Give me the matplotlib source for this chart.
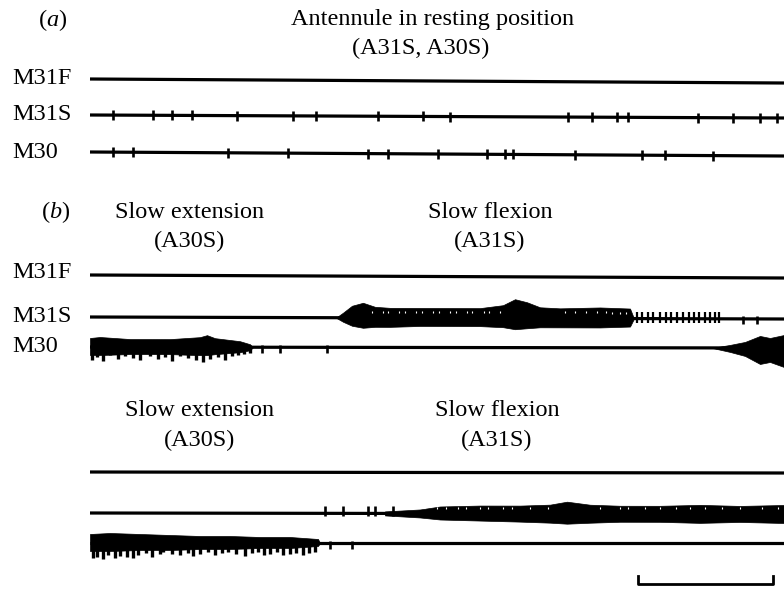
import matplotlib
matplotlib.use("Agg")
import matplotlib.pyplot as plt
import numpy as np

plt.rcParams['font.family'] = ['Liberation Serif', 'DejaVu Serif']
plt.rcParams['mathtext.fontset'] = 'custom'
plt.rcParams['mathtext.rm'] = 'Liberation Serif'
plt.rcParams['mathtext.it'] = 'Liberation Serif:italic'

# ---------------- data (time axis in trace units, amplitudes in trace units) ----------------
T_START = 90
T_END = 784

# Trace baselines (left level, right level)
base_a = {"M31F": (79, 83), "M31S": (115, 118), "M30": (152, 156)}
base_b = {"M31F": (275, 278), "M31S": (317, 319), "M30": (347, 348)}
base_c = {"top": (472, 473), "mid": (513, 514), "bot": (543, 543)}

# (a) single spike times
spikes_a_m31s = [113, 153, 172, 192, 237, 293, 316, 378, 423, 450, 568, 592, 617, 628, 698, 733, 760, 777]
spikes_a_m30 = [113, 133, 228, 288, 368, 388, 438, 487, 505, 513, 575, 642, 665, 713]

# (b) M31S burst envelope
b31s_t = [336, 343, 352, 363, 375, 390, 420, 480, 503, 515, 527, 540, 560, 600, 630, 634]
b31s_up = [0, 5, 12, 15, 11, 10, 10, 10, 13, 19, 16, 11, 10, 11, 10, 0]
b31s_dn = [0, 4, 8, 10, 9, 9, 8, 8, 9, 11, 10, 9, 9, 9, 8, 0]
b31s_gaps = [372, 383, 388, 399, 405, 416, 422, 433, 439, 450, 456,
             467, 472, 484, 489, 500, 565, 575, 586, 597, 606, 612, 620, 626]
b31s_comb = [637, 642, 648, 653, 660, 666, 671, 677, 683, 689, 694, 699, 705, 710, 715, 719]
b31s_extra = [743, 757]

# (b) M30 bursts
b30_t = [90, 100, 130, 170, 200, 207, 215, 240, 250, 253]
b30_up = [9, 10, 8, 8, 10, 12, 9, 6, 3, 0]
b30_dn = [8, 8, 7, 7, 8, 8, 7, 5, 3, 0]
b30_teeth = [92, 97, 103, 110, 118, 125, 133, 140, 150, 158, 165, 172, 180, 188, 196, 203,
             210, 218, 225, 232, 238, 244, 250]
b30_depth = [13, 10, 14, 8, 12, 9, 11, 13, 9, 12, 10, 14, 9, 11, 13, 15,
             12, 10, 13, 9, 8, 7, 6]
b30_spk = [262, 280, 327]
b30r_t = [712, 730, 745, 760, 770, 784]
b30r_up = [0, 3, 6, 12, 10, 13]
b30r_dn = [0, 4, 8, 16, 14, 19]

# (c) middle trace burst
cmid_t = [385, 420, 440, 480, 520, 550, 567, 590, 620, 660, 700, 740, 784]
cmid_up = [2, 4, 7, 8, 8, 9, 12, 9, 8, 8, 9, 8, 9]
cmid_dn = [2, 4, 6, 7, 8, 9, 10, 9, 8, 8, 9, 8, 9]
cmid_gaps = [425, 437, 446, 458, 466, 480, 488, 503, 512, 530, 548,
             600, 620, 628, 645, 660, 676, 690, 705, 722, 740, 762, 778]
cmid_spk = [325, 343, 368, 375, 393]

# (c) bottom trace burst
cbot_t = [90, 110, 140, 170, 200, 230, 260, 290, 318, 320]
cbot_up = [9, 10, 9, 8, 7, 7, 6, 6, 4, 0]
cbot_dn = [8, 8, 7, 7, 6, 6, 5, 5, 3, 0]
cbot_comb = [93, 97, 103, 108, 115, 120, 127, 133, 138, 146, 152, 160, 163, 172, 180, 188, 193,
             200, 208, 215, 222, 228, 236, 245, 252, 258, 264, 270, 277, 283, 290, 296, 303, 309, 315]
cbot_comb_depth = [15, 14, 16, 12, 15, 13, 14, 15, 12, 10, 14, 11, 9, 11, 12, 10, 13,
                   11, 9, 12, 10, 9, 11, 13, 10, 9, 12, 11, 9, 12, 11, 10, 12, 10, 9]
cbot_spk = [330, 352]

# scale bar
scalebar_t = (638, 773)
scalebar_y = 584
scalebar_tick = 8

LW = 2.3
fig = plt.figure(figsize=(7.84, 5.89), dpi=100)
ax = fig.add_axes([0, 0, 1, 1])
ax.set_xlim(0, 784)
ax.set_ylim(589, 0)
ax.axis('off')


def baseline(b):
    ax.plot([T_START, T_END], [b[0], b[1]], color='black', lw=LW, solid_capstyle='butt')


def ylev(b, t):
    return b[0] + (b[1] - b[0]) * (np.asarray(t, dtype=float) - T_START) / (T_END - T_START)


def spikes(b, ts, up=5, dn=5, lw=1.9):
    ts = np.asarray(ts, dtype=float)
    y = ylev(b, ts)
    ax.vlines(ts, y - up, y + dn, color='black', lw=lw)


def burst(b, t, up, dn):
    t = np.asarray(t, dtype=float)
    y = ylev(b, t)
    ax.fill_between(t, y - np.asarray(up), y + np.asarray(dn), color='black', lw=0.5)


def gaps(b, ts, top=7, bot=5, lw=0.8):
    ts = np.asarray(ts, dtype=float)
    y = ylev(b, ts)
    ax.vlines(ts, y - top, y - bot, color='white', lw=lw, zorder=5)


# ----- panel (a)
for k in ["M31F", "M31S", "M30"]:
    baseline(base_a[k])
spikes(base_a["M31S"], spikes_a_m31s)
spikes(base_a["M30"], spikes_a_m30)

# ----- panel (b)
for k in ["M31F", "M31S", "M30"]:
    baseline(base_b[k])
burst(base_b["M31S"], b31s_t, b31s_up, b31s_dn)
gaps(base_b["M31S"], b31s_gaps)
spikes(base_b["M31S"], b31s_comb, up=7, dn=4, lw=1.6)
spikes(base_b["M31S"], b31s_extra, up=3, dn=5)
burst(base_b["M30"], b30_t, b30_up, b30_dn)
yb = ylev(base_b["M30"], b30_teeth)
ax.vlines(b30_teeth, yb, yb + np.asarray(b30_depth), color='black', lw=2.4)
spikes(base_b["M30"], b30_spk, up=2, dn=6)
burst(base_b["M30"], b30r_t, b30r_up, b30r_dn)

# ----- panel (c)
for k in ["top", "mid", "bot"]:
    baseline(base_c[k])
burst(base_c["mid"], cmid_t, cmid_up, cmid_dn)
gaps(base_c["mid"], cmid_gaps)
spikes(base_c["mid"], cmid_spk, up=7, dn=3)
burst(base_c["bot"], cbot_t, cbot_up, cbot_dn)
yb = ylev(base_c["bot"], cbot_comb)
ax.vlines(cbot_comb, yb, yb + np.asarray(cbot_comb_depth), color='black', lw=2.4)
spikes(base_c["bot"], cbot_spk, up=2, dn=6)

# scale bar
ax.plot([scalebar_t[0], scalebar_t[0], scalebar_t[1], scalebar_t[1]],
        [scalebar_y - scalebar_tick, scalebar_y, scalebar_y, scalebar_y - scalebar_tick],
        color='black', lw=2.0)

# ----- text
FS = 17.5
ax.text(53, 20, "($\\mathit{a}$)", fontsize=FS, ha='center', va='center')
ax.text(433, 19, "Antennule in resting position", fontsize=FS, ha='center', va='center')
ax.text(421, 48, "(A31S, A30S)", fontsize=FS, ha='center', va='center')

for lab, y in [("M31F", 79), ("M31S", 114), ("M30", 152)]:
    ax.text(12, y, lab, fontsize=FS, ha='left', va='center')

ax.text(56, 212, "($\\mathit{b}$)", fontsize=FS, ha='center', va='center')
ax.text(190, 212, "Slow extension", fontsize=FS, ha='center', va='center')
ax.text(190, 241, "(A30S)", fontsize=FS, ha='center', va='center')
ax.text(490, 212, "Slow flexion", fontsize=FS, ha='center', va='center')
ax.text(490, 241, "(A31S)", fontsize=FS, ha='center', va='center')
for lab, y in [("M31F", 272), ("M31S", 317), ("M30", 347)]:
    ax.text(12, y, lab, fontsize=FS, ha='left', va='center')

ax.text(200, 411, "Slow extension", fontsize=FS, ha='center', va='center')
ax.text(200, 440, "(A30S)", fontsize=FS, ha='center', va='center')
ax.text(497, 411, "Slow flexion", fontsize=FS, ha='center', va='center')
ax.text(497, 440, "(A31S)", fontsize=FS, ha='center', va='center')

fig.savefig("out.png", dpi=100)
